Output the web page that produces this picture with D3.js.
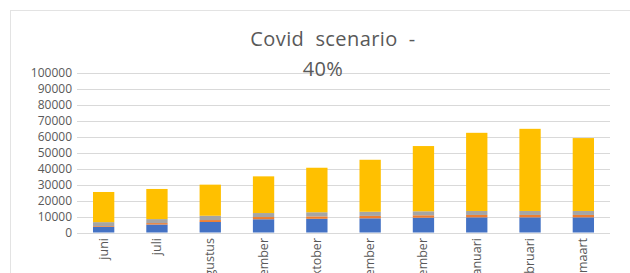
<!DOCTYPE html>
<html lang="nl">
<head>
    <meta charset="UTF-8">
    <title>Covid scenario - 40%</title>
    <script src="https://d3js.org/d3.v7.min.js"></script>
    <style>
        body {
            margin: 0;
            overflow: hidden;
            background: #fff;
        }
        text {
            font-family: "Open Sans", sans-serif;
            fill: #595959;
        }
        .grid line {
            stroke: #d9d9d9;
            stroke-width: 1px;
        }
    </style>
</head>
<body>
<div id="chart"></div>
<script>
    const width = 630;
    const height = 273;

    // months and the four stacked series
    const months = ["juni", "juli", "augustus", "september", "oktober", "november", "december", "januari", "februari", "maart"];
    const blueSeries = [3500, 5000, 6600, 8300, 8600, 8900, 9300, 9500, 9500, 9500];
    const orangeSeries = [500, 900, 1200, 1400, 1500, 1500, 1500, 1500, 1500, 1500];
    const graySeries = [2500, 2500, 2700, 2500, 2600, 2600, 2500, 2500, 2500, 2500];
    const yellowSeries = [18900, 18900, 19500, 23000, 27900, 32600, 40900, 49000, 51500, 45700];
    const yTicks = [0, 10000, 20000, 30000, 40000, 50000, 60000, 70000, 80000, 90000, 100000];
    const seriesColors = ["#4472c4", "#ed7d31", "#a5a5a5", "#ffc000"];

    const plotLeft = 77, plotRight = 610, plotTop = 73, plotBottom = 232.5;

    const svg = d3.select("#chart")
        .append("svg")
        .attr("width", width)
        .attr("height", height);

    // chart frame
    svg.append("rect")
        .attr("x", 10.5).attr("y", 10.5)
        .attr("width", 640).attr("height", 300)
        .attr("fill", "none")
        .attr("stroke", "#e3e3e3");

    const x = d3.scaleBand()
        .domain(months)
        .range([plotLeft, plotRight])
        .paddingInner(0.6)
        .paddingOuter(0.3);

    const y = d3.scaleLinear()
        .domain([0, 100000])
        .range([plotBottom, plotTop]);

    // gridlines
    svg.append("g")
        .attr("class", "grid")
        .selectAll("line")
        .data(yTicks)
        .join("line")
        .attr("x1", plotLeft).attr("x2", plotRight)
        .attr("y1", d => Math.round(y(d)) + 0.5)
        .attr("y2", d => Math.round(y(d)) + 0.5);

    // y labels
    svg.append("g")
        .selectAll("text")
        .data(yTicks)
        .join("text")
        .attr("x", 72)
        .attr("y", d => y(d))
        .attr("dy", "0.35em")
        .attr("text-anchor", "end")
        .style("font-size", "12px")
        .text(d => d);

    // stacked bars
    const rows = months.map((m, i) => ({
        month: m,
        blue: blueSeries[i],
        orange: orangeSeries[i],
        gray: graySeries[i],
        yellow: yellowSeries[i]
    }));
    const stack = d3.stack().keys(["blue", "orange", "gray", "yellow"]);
    const layers = stack(rows);

    svg.append("g")
        .selectAll("g")
        .data(layers)
        .join("g")
        .attr("fill", (d, i) => seriesColors[i])
        .selectAll("rect")
        .data(d => d)
        .join("rect")
        .attr("x", d => x(d.data.month))
        .attr("width", x.bandwidth())
        .attr("y", d => y(d[1]))
        .attr("height", d => y(d[0]) - y(d[1]));

    // x labels, rotated
    svg.append("g")
        .selectAll("text")
        .data(months)
        .join("text")
        .attr("transform", d => `translate(${x(d) + x.bandwidth() / 2 + 4},238) rotate(-90)`)
        .attr("text-anchor", "end")
        .style("font-size", "12.5px")
        .text(d => d);

    // title
    const title = svg.append("text")
        .attr("text-anchor", "middle")
        .style("font-size", "20px")
        .style("letter-spacing", "0.4px");
    title.append("tspan")
        .attr("x", 333).attr("y", 46)
        .style("white-space", "pre")
        .text("Covid  scenario  -");
    title.append("tspan")
        .attr("x", 323).attr("y", 76)
        .text("40%");
</script>
</body>
</html>
